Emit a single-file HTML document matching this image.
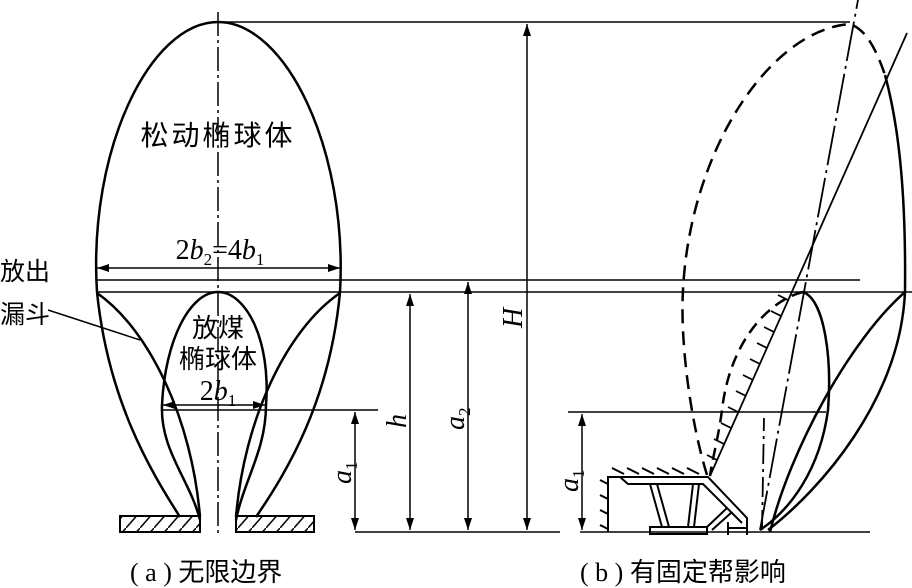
<!DOCTYPE html>
<html><head><meta charset="utf-8"><style>
body{margin:0;background:#fff}
svg{display:block}
text{font-family:"Liberation Serif","Noto Serif CJK SC","Noto Sans CJK SC",serif;fill:#000}
.cj{font-family:"Liberation Serif","Noto Sans CJK SC",sans-serif}
</style></head><body>
<svg width="912" height="588" viewBox="0 0 912 588" xmlns="http://www.w3.org/2000/svg">
<defs>
<marker id="a" viewBox="0 0 12 8" refX="12" refY="4" markerWidth="12" markerHeight="8" orient="auto-start-reverse" markerUnits="userSpaceOnUse"><path d="M0,0 L12,4 L0,8 z"/></marker>
<pattern id="h" width="14" height="16" patternUnits="userSpaceOnUse"><path d="M0,16 L14,0" stroke="#000" stroke-width="1.5"/></pattern>
</defs>
<g fill="none" stroke="#000" stroke-width="2.5">
<path d="M97,292 C88,150 150,22 218,22 C286,22 348,150 340,292"/>
<path d="M97,292 C108,400 150,470 180,517"/>
<path d="M340,292 C330,400 288,470 256,517"/>
<path d="M97,293 C150,330 192,420 200,517"/>
<path d="M340,293 C286,330 244,420 236,517"/>
<path d="M200,520 C190,480 160,450 162,405 C165,340 190,292 218,292 C246,292 271,340 266,405 C266,450 244,480 236,520"/>
</g>
<g stroke="#000" stroke-width="1.5" fill="none">
<path d="M218,12 V535" stroke-dasharray="24,4,3,4"/>
<path d="M218,22 H850"/>
<path d="M96,280 H860"/>
<path d="M96,292 H912"/>
<path d="M162,410 H378"/>
<path d="M355,532 H560"/>
<path d="M580,532 H870"/>
<path d="M568,412 H826"/>
<path d="M48,310 L140,340"/>
<path d="M97,268 H340" marker-start="url(#a)" marker-end="url(#a)"/>
<path d="M163,405 H265" marker-start="url(#a)" marker-end="url(#a)"/>
<path d="M355,412 V530" marker-start="url(#a)" marker-end="url(#a)"/>
<path d="M410,294 V530" marker-start="url(#a)" marker-end="url(#a)"/>
<path d="M468,282 V530" marker-start="url(#a)" marker-end="url(#a)"/>
<path d="M527,24 V530" marker-start="url(#a)" marker-end="url(#a)"/>
<path d="M582,414 V530" marker-start="url(#a)" marker-end="url(#a)"/>
</g>
<rect x="120" y="516" width="80" height="16" fill="url(#h)" stroke="#000" stroke-width="2"/>
<rect x="236" y="516" width="78" height="16" fill="url(#h)" stroke="#000" stroke-width="2"/>
<g fill="none" stroke="#000" stroke-width="2.5">
<path d="M707,475 C690,420 680,340 683,290 C690,150 770,30 850,24 C868,30 878,55 885,75" stroke-dasharray="14,8"/>
<path d="M885,75 C900,130 906,200 905,292 C900,400 820,490 768,530"/>
<path d="M803,292 C825,300 832,360 828,410 C820,470 790,510 760,530"/>
<path d="M803,292 C770,300 730,340 722,410 C718,440 712,460 710,476" stroke-dasharray="12,7"/>
<path d="M905,292 C850,340 790,450 770,532"/>
</g>
<g fill="none" stroke="#000" stroke-width="1.8">
<path d="M710,476 L907,33"/>
<path d="M760,530 L858,0" stroke-dasharray="40,5,3,5"/>
<path d="M762,530 L764,418" stroke-dasharray="20,5,3,5"/>
<path d="M717,460 l-10,-5 M724,444 l-10,-5 M731,428 l-10,-5 M738,412 l-10,-5 M746,396 l-10,-5 M753,380 l-10,-5 M760,364 l-10,-5 M767,348 l-10,-5 M774,332 l-10,-5 M781,316 l-10,-5 M788,300 l-10,-5"/>
</g>
<g fill="none" stroke="#000" stroke-width="2">
<path d="M608,532 V477 H708 L747,518 V535"/>
<path d="M620,477 L628,484 H703 L742,523"/>
<path d="M650,484 L662,527 M657,484 L669,527 M693,484 L688,527 M699,484 L694,527"/>
<rect x="650" y="527" width="57" height="7"/>
<path d="M707,527 L727,508 M712,530 L732,512"/>
<path d="M728,522 V535 M728,528 H746"/>
<path d="M600,480 l8,4 M600,495 l8,4 M600,510 l8,4 M600,525 l8,4"/>
<path d="M612,468 l12,6 M627,468 l12,6 M642,468 l12,6 M657,468 l12,6 M672,468 l12,6 M687,468 l12,6"/>
</g>
<text x="218" y="145" font-size="28" letter-spacing="3" text-anchor="middle" class="cj">松动椭球体</text>
<text x="220" y="259" font-size="28" text-anchor="middle">2<tspan font-style="italic">b</tspan><tspan font-size="17" dy="6">2</tspan><tspan dy="-6">=4</tspan><tspan font-style="italic">b</tspan><tspan font-size="17" dy="6">1</tspan></text>
<text x="0" y="280" font-size="25" class="cj">放出</text>
<text x="0" y="323" font-size="25" class="cj">漏斗</text>
<text x="218" y="337" font-size="26" text-anchor="middle" class="cj">放煤</text>
<text x="218" y="368" font-size="26" text-anchor="middle" class="cj">椭球体</text>
<text x="218" y="400" font-size="28" text-anchor="middle">2<tspan font-style="italic">b</tspan><tspan font-size="17" dy="6">1</tspan></text>
<text transform="translate(351,484) rotate(-90)" font-size="28" font-style="italic">a<tspan font-size="17" font-style="normal" dy="6">1</tspan></text>
<text transform="translate(406,428) rotate(-90)" font-size="28" font-style="italic">h</text>
<text transform="translate(464,430) rotate(-90)" font-size="28" font-style="italic">a<tspan font-size="17" font-style="normal" dy="6">2</tspan></text>
<text transform="translate(522,328) rotate(-90)" font-size="28" font-style="italic">H</text>
<text transform="translate(578,492) rotate(-90)" font-size="28" font-style="italic">a<tspan font-size="17" font-style="normal" dy="6">1</tspan></text>
<text x="130" y="581" font-size="26" class="cj">( a ) 无限边界</text>
<text x="580" y="581" font-size="26" class="cj">( b ) 有固定帮影响</text>
</svg>
</body></html>
